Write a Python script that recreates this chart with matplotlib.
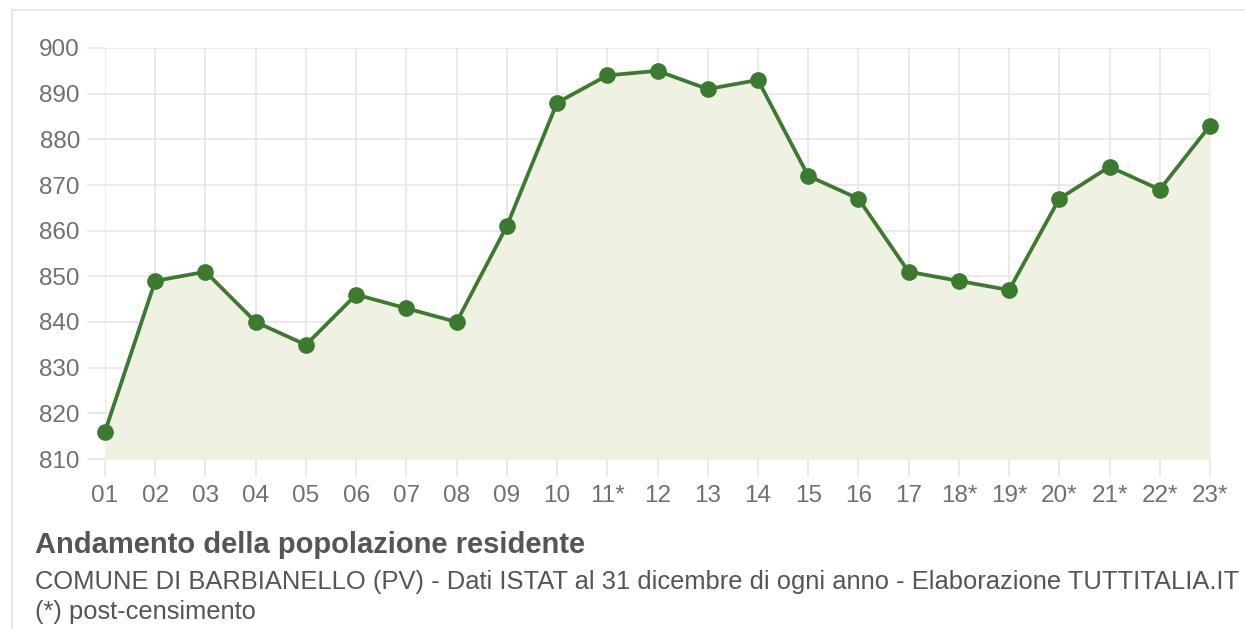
import matplotlib
matplotlib.use("Agg")
import matplotlib.pyplot as plt
from matplotlib.lines import Line2D

years = ["01", "02", "03", "04", "05", "06", "07", "08", "09", "10", "11*", "12",
         "13", "14", "15", "16", "17", "18*", "19*", "20*", "21*", "22*", "23*"]
population = [816, 849, 851, 840, 835, 846, 843, 840, 861, 888, 894, 895,
              891, 893, 872, 867, 851, 849, 847, 867, 874, 869, 883]
yticks = [810, 820, 830, 840, 850, 860, 870, 880, 890, 900]

plt.rcParams['font.family'] = ['Liberation Sans', 'DejaVu Sans']

W, H = 1245, 629
fig = plt.figure(figsize=(W / 100, H / 100), dpi=100)
ax = fig.add_axes([105 / W, 1 - 459 / H, (1210 - 105) / W, (459 - 48) / H])

x = list(range(len(years)))
ax.fill_between(x, population, 810, color="#eff1e3", zorder=1)
ax.plot(x, population, color="#3c7a2f", lw=2.7, marker="o", ms=11,
        markerfacecolor="#3c7a2f", markeredgecolor="#3c7a2f", zorder=3, clip_on=False)

ax.set_xlim(0, len(years) - 1)
ax.set_ylim(810, 900)
ax.set_xticks(x)
ax.set_xticklabels(years)
ax.set_yticks(yticks)
ax.grid(True, color="#e4e4e4", lw=1.1, zorder=0)
ax.set_axisbelow(True)
for s in ax.spines.values():
    s.set_visible(False)
ax.tick_params(axis="both", colors="#e4e4e4", labelcolor="#707070", labelsize=17.5,
               length=13, width=1.1)
ax.tick_params(axis="x", pad=6)
ax.tick_params(axis="y", pad=5)

# outer frame
fig.add_artist(Line2D([12 / W, 12 / W], [0, 1 - 10 / H], color="#e0e0ea", lw=1.2))
fig.add_artist(Line2D([12 / W, 1], [1 - 10 / H, 1 - 10 / H], color="#e0e0ea", lw=1.2))

fig.text(35 / W, 1 - 545 / H, "Andamento della popolazione residente",
         fontsize=21, fontweight="bold", color="#555555", va="center", ha="left")
fig.text(35 / W, 1 - 582 / H,
         "COMUNE DI BARBIANELLO (PV) - Dati ISTAT al 31 dicembre di ogni anno - Elaborazione TUTTITALIA.IT",
         fontsize=18.4, color="#555555", va="center", ha="left")
fig.text(35 / W, 1 - 612 / H, "(*) post-censimento",
         fontsize=18.4, color="#555555", va="center", ha="left")

fig.savefig("out.png", dpi=100, facecolor="white")
